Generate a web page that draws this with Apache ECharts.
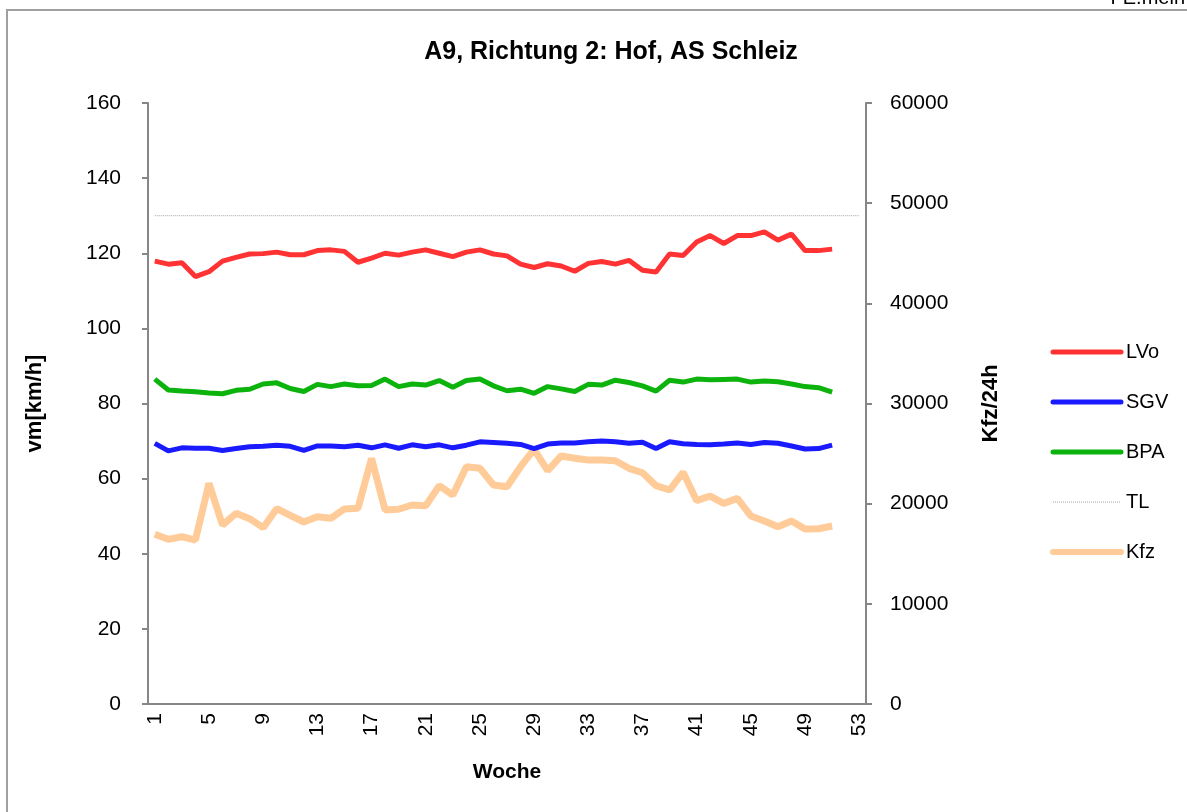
<!DOCTYPE html>
<html>
<head>
<meta charset="utf-8">
<title>A9, Richtung 2: Hof, AS Schleiz</title>
<script src="https://cdn.jsdelivr.net/npm/echarts@6/dist/echarts.min.js"></script>
<style>
html,body{margin:0;padding:0;background:#fff;}
#chart{width:1187px;height:812px;}
</style>
</head>
<body>
<div id="chart"></div>
<script>
// Kalenderwochen
var weeks = ['1','2','3','4','5','6','7','8','9','10','11','12','13','14','15','16','17','18','19','20',
    '21','22','23','24','25','26','27','28','29','30','31','32','33','34','35','36','37','38','39','40',
    '41','42','43','44','45','46','47','48','49','50','51','52','53'];
// Geschwindigkeiten vm [km/h]
var lvo = [117.9,117.1,117.5,113.8,115.1,117.9,118.9,119.8,119.9,120.3,119.6,119.6,120.7,120.9,120.5,117.6,118.7,
    120.0,119.5,120.3,120.9,120.0,119.1,120.3,120.9,119.8,119.3,117.1,116.2,117.2,116.6,115.2,117.3,117.8,
    117.1,118.1,115.5,115.0,119.8,119.4,123.0,124.7,122.6,124.7,124.7,125.7,123.5,125.1,120.7,120.7,121.1];
var sgv = [69.4,67.4,68.2,68.1,68.1,67.5,68.0,68.5,68.6,68.9,68.6,67.5,68.7,68.7,68.5,68.9,68.2,69.0,68.1,69.0,
    68.5,69.0,68.2,68.9,69.8,69.6,69.4,69.1,68.0,69.2,69.5,69.5,69.8,70.0,69.8,69.4,69.7,68.0,69.8,69.3,
    69.1,69.0,69.2,69.5,69.1,69.6,69.4,68.7,67.9,68.0,68.9];
var bpa = [86.5,83.6,83.3,83.1,82.8,82.6,83.5,83.8,85.2,85.5,84.0,83.2,85.1,84.5,85.2,84.7,84.8,86.5,84.5,85.2,
    84.9,86.1,84.3,86.1,86.5,84.7,83.4,83.8,82.7,84.5,83.9,83.2,85.1,84.9,86.2,85.6,84.7,83.3,86.2,85.7,
    86.5,86.3,86.4,86.5,85.7,86.0,85.8,85.2,84.5,84.2,83.0];
// Tempolimit
var tl = [130,130,130,130,130,130,130,130,130,130,130,130,130,130,130,130,130,130,130,130,130,130,130,130,130,130,
    130,130,130,130,130,130,130,130,130,130,130,130,130,130,130,130,130,130,130,130,130,130,130,130,130,130,130];
// Verkehrsstaerke Kfz/24h
var kfz = [16940,16440,16700,16370,22030,17870,19040,18500,17600,19500,18840,18170,18700,18540,19470,19540,24530,
    19370,19440,19870,19800,21800,20860,23690,23530,21860,21690,23690,25430,23290,24760,24530,24360,24360,
    24290,23530,23090,21800,21360,23130,20300,20760,20030,20530,18770,18270,17700,18270,17470,17500,17770];

var font = '"Liberation Sans", Arial, sans-serif';
var axisGrey = '#868686';

var chart = echarts.init(document.getElementById('chart'));

var option = {
    backgroundColor: '#fff',
    textStyle: { fontFamily: font, color: '#000' },
    title: {
        text: 'A9, Richtung 2: Hof, AS Schleiz',
        left: 606, top: 35, textAlign: 'center',
        textStyle: { fontFamily: font, fontSize: 25, fontWeight: 'bold', color: '#000' }
    },
    // Rahmen + abgeschnittener Text oben rechts
    graphic: [
        { type: 'rect', shape: { x: 7, y: 10, width: 1200, height: 820 },
          style: { fill: null, stroke: '#a0a0a0', lineWidth: 2 }, silent: true },
        { type: 'text', right: 2, top: -12,
          style: { text: 'FE.mein', fontFamily: font, fontSize: 20, fill: '#000' } }
    ],
    legend: {
        orient: 'vertical',
        left: 1045, top: 337,
        itemWidth: 68, itemHeight: 12, itemGap: 30,
        itemStyle: { opacity: 0 },
        textStyle: { fontFamily: font, fontSize: 20, color: '#000' },
        data: [
            { name: 'LVo', lineStyle: { width: 5, cap: 'round' } },
            { name: 'SGV', lineStyle: { width: 5, cap: 'round' } },
            { name: 'BPA', lineStyle: { width: 5, cap: 'round' } },
            { name: 'TL', lineStyle: { width: 1, type: 'dotted' } },
            { name: 'Kfz', lineStyle: { width: 6, cap: 'round' } }
        ]
    },
    grid: { left: 148, right: 321, top: 103, bottom: 108 },
    xAxis: {
        type: 'category',
        data: weeks,
        boundaryGap: true,
        name: 'Woche', nameLocation: 'middle', nameGap: 58,
        nameTextStyle: { fontFamily: font, fontSize: 21, fontWeight: 'bold', color: '#000' },
        axisLine: { lineStyle: { color: axisGrey, width: 2 } },
        axisTick: { interval: 0, length: 6, lineStyle: { color: axisGrey, width: 2 } },
        axisLabel: { interval: 3, rotate: 90, fontSize: 21, color: '#000', margin: 9 }
    },
    yAxis: [
        {
            type: 'value', min: 0, max: 160, interval: 20,
            name: 'vm[km/h]', nameLocation: 'middle', nameGap: 102, nameRotate: 90,
            nameTextStyle: { fontFamily: font, fontSize: 22, fontWeight: 'bold', color: '#000' },
            axisLine: { show: true, lineStyle: { color: axisGrey, width: 2 } },
            axisTick: { show: true, length: 6, lineStyle: { color: axisGrey, width: 2 } },
            axisLabel: { fontSize: 21, color: '#000', margin: 27 },
            splitLine: { show: false }
        },
        {
            type: 'value', min: 0, max: 60000, interval: 10000,
            name: 'Kfz/24h', nameLocation: 'middle', nameGap: 114, nameRotate: 90,
            nameTextStyle: { fontFamily: font, fontSize: 22, fontWeight: 'bold', color: '#000' },
            axisLine: { show: true, lineStyle: { color: axisGrey, width: 2 } },
            axisTick: { show: true, length: 6, lineStyle: { color: axisGrey, width: 2 } },
            axisLabel: { fontSize: 21, color: '#000', margin: 24,
                formatter: function (v) { return String(v); } },
            splitLine: { show: false }
        }
    ],
    series: [
        { name: 'LVo', type: 'line', data: lvo, symbol: 'none', yAxisIndex: 0,
          lineStyle: { color: '#FF3333', width: 5 }, itemStyle: { color: '#FF3333' }, z: 4 },
        { name: 'SGV', type: 'line', data: sgv, symbol: 'none', yAxisIndex: 0,
          lineStyle: { color: '#1A1AFF', width: 5 }, itemStyle: { color: '#1A1AFF' }, z: 4 },
        { name: 'BPA', type: 'line', data: bpa, symbol: 'none', yAxisIndex: 0,
          lineStyle: { color: '#0DB30D', width: 5 }, itemStyle: { color: '#0DB30D' }, z: 4 },
        { name: 'TL', type: 'line', data: tl, symbol: 'none', yAxisIndex: 0,
          lineStyle: { color: '#A6A6A6', width: 1, type: 'dotted' }, itemStyle: { color: '#A6A6A6' }, z: 2 },
        { name: 'Kfz', type: 'line', data: kfz, symbol: 'none', yAxisIndex: 1,
          lineStyle: { color: '#FFCC99', width: 7 }, itemStyle: { color: '#FFCC99' }, z: 3 }
    ]
};

chart.setOption(option);
window.addEventListener('resize', chart.resize);
</script>
</body>
</html>
